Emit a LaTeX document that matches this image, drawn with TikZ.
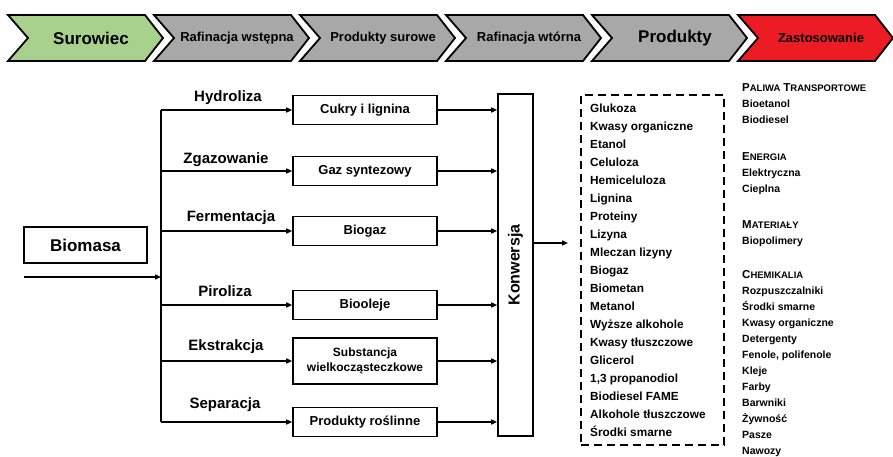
\documentclass[tikz,border=0pt]{standalone}
\usepackage{fontspec}
\setmainfont{Liberation Sans}
\usetikzlibrary{arrows.meta,calc}
\definecolor{cgreen}{RGB}{169,209,142}
\definecolor{cgray}{RGB}{168,168,168}
\definecolor{cred}{RGB}{237,28,36}
\newcommand{\kap}[2]{{\fontsize{11.5}{16}\selectfont #1}{\fontsize{9.5}{16}\selectfont #2}}

\begin{document}
\begin{tikzpicture}[x=1pt,y=-1pt,font=\bfseries,
  chev/.style={draw=black,line width=1.8pt},
  box/.style={draw,line width=1.6pt,minimum width=144,minimum height=29,inner sep=1pt,
    font=\bfseries\fontsize{13}{14}\selectfont},
  proc/.style={font=\bfseries\fontsize{15}{16}\selectfont},
  arr/.style={line width=1.4pt,-{Triangle[length=6pt,width=5pt]}},
  item/.style={anchor=base west,inner sep=0,font=\bfseries\fontsize{11.8}{12}\selectfont},
  group/.style={anchor=north west,align=left,inner sep=0,font=\bfseries\fontsize{10.5}{16}\selectfont}]
  \useasboundingbox (0,0) rectangle (893,457);

  % etapy
  \foreach \s/\col/\txt/\fs [count=\i] in {8/cgreen/Surowiec/17,154/cgray/Rafinacja wstępna/13,
      300/cgray/Produkty surowe/13,446/cgray/Rafinacja wtórna/13,592/cgray/Produkty/17,738/cred/Zastosowanie/13} {
    \draw[chev,fill=\col] (\s,15) -- ++(137,0) -- ++(18,23) -- ++(-18,23) -- ++(-137,0) -- ++(20,-23) -- cycle;
    \node[font=\bfseries\fontsize{\fs}{\fs}\selectfont] (etap\i) at (\s+83,38) {\txt};
  }

  % biomasa
  \node[draw,line width=1.6pt,minimum width=123,minimum height=36,font=\bfseries\fontsize{17}{18}\selectfont] (bio) at (85.5,245) {Biomasa};
  \coordinate (wej) at (24,277);
  \coordinate (pien) at (161,277);
  \draw[arr] (wej) -- (pien);

  % produkty posrednie
  \node[box] (cukry) at (365,110) {Cukry i lignina};
  \node[box] (gaz) at (365,171) {Gaz syntezowy};
  \node[box] (biogaz) at (365,231) {Biogaz};
  \node[box] (oleje) at (365,305) {Biooleje};
  \node[box,minimum height=46,align=center,font=\bfseries\fontsize{12}{15}\selectfont] (subst) at (365,361) {Substancja\\wielkocząsteczkowe};
  \node[box] (rosl) at (365,422) {Produkty roślinne};

  \draw[line width=1.4pt] (pien |- cukry.west) -- (pien |- rosl.west);
  \foreach \n in {cukry,gaz,biogaz,oleje,subst,rosl}
    \draw[arr] (pien |- \n.west) -- (\n.west);

  \node[proc] (hydr) at (228,98) {Hydroliza};
  \node[proc] (zgaz) at (226,160) {Zgazowanie};
  \node[proc] (ferm) at (231,218) {Fermentacja};
  \node[proc] (piro) at (225,291) {Piroliza};
  \node[proc] (ekst) at (226,347) {Ekstrakcja};
  \node[proc] (sep) at (225,405) {Separacja};

  % konwersja
  \node[draw,line width=1.6pt,minimum width=35,minimum height=342] (konw) at (515.5,265) {};
  \node[rotate=90,font=\bfseries\fontsize{16}{16}\selectfont] (konwtxt) at (konw) {Konwersja};
  \foreach \n in {cukry,gaz,biogaz,oleje,subst,rosl}
    \draw[arr] (\n.east) -- (\n.east -| konw.west);
  \coordinate (wyj) at (568,243);
  \draw[arr] (konw.east |- wyj) -- (wyj);

  % produkty
  \node[draw,line width=1.8pt,dash pattern=on 8pt off 5pt,minimum width=143,minimum height=350] (lista) at (652.5,270) {};
  \foreach \t [count=\i] in {Glukoza,Kwasy organiczne,Etanol,Celuloza,Hemiceluloza,Lignina,Proteiny,Lizyna,
      Mleczan lizyny,Biogaz,Biometan,Metanol,Wyższe alkohole,Kwasy tłuszczowe,Glicerol,{1,3 propanodiol},
      Biodiesel FAME,Alkohole tłuszczowe,Środki smarne}
    \node[item] (prod\i) at (590,95+17.95*\i) {\t};

  % zastosowanie
  \node[group] (paliwa) at (742,83) {\kap{P}{ALIWA} \kap{T}{RANSPORTOWE}\\Bioetanol\\Biodiesel};
  \node[group] (energia) at (742,152) {\kap{E}{NERGIA}\\Elektryczna\\Cieplna};
  \node[group] (mater) at (742,220) {\kap{M}{ATERIAŁY}\\Biopolimery};
  \node[group] (chem) at (742,270) {\kap{C}{HEMIKALIA}\\Rozpuszczalniki\\Środki smarne\\Kwasy organiczne\\Detergenty\\Fenole, polifenole\\Kleje\\Farby\\Barwniki\\Żywność\\Pasze\\Nawozy};
\end{tikzpicture}
\end{document}
